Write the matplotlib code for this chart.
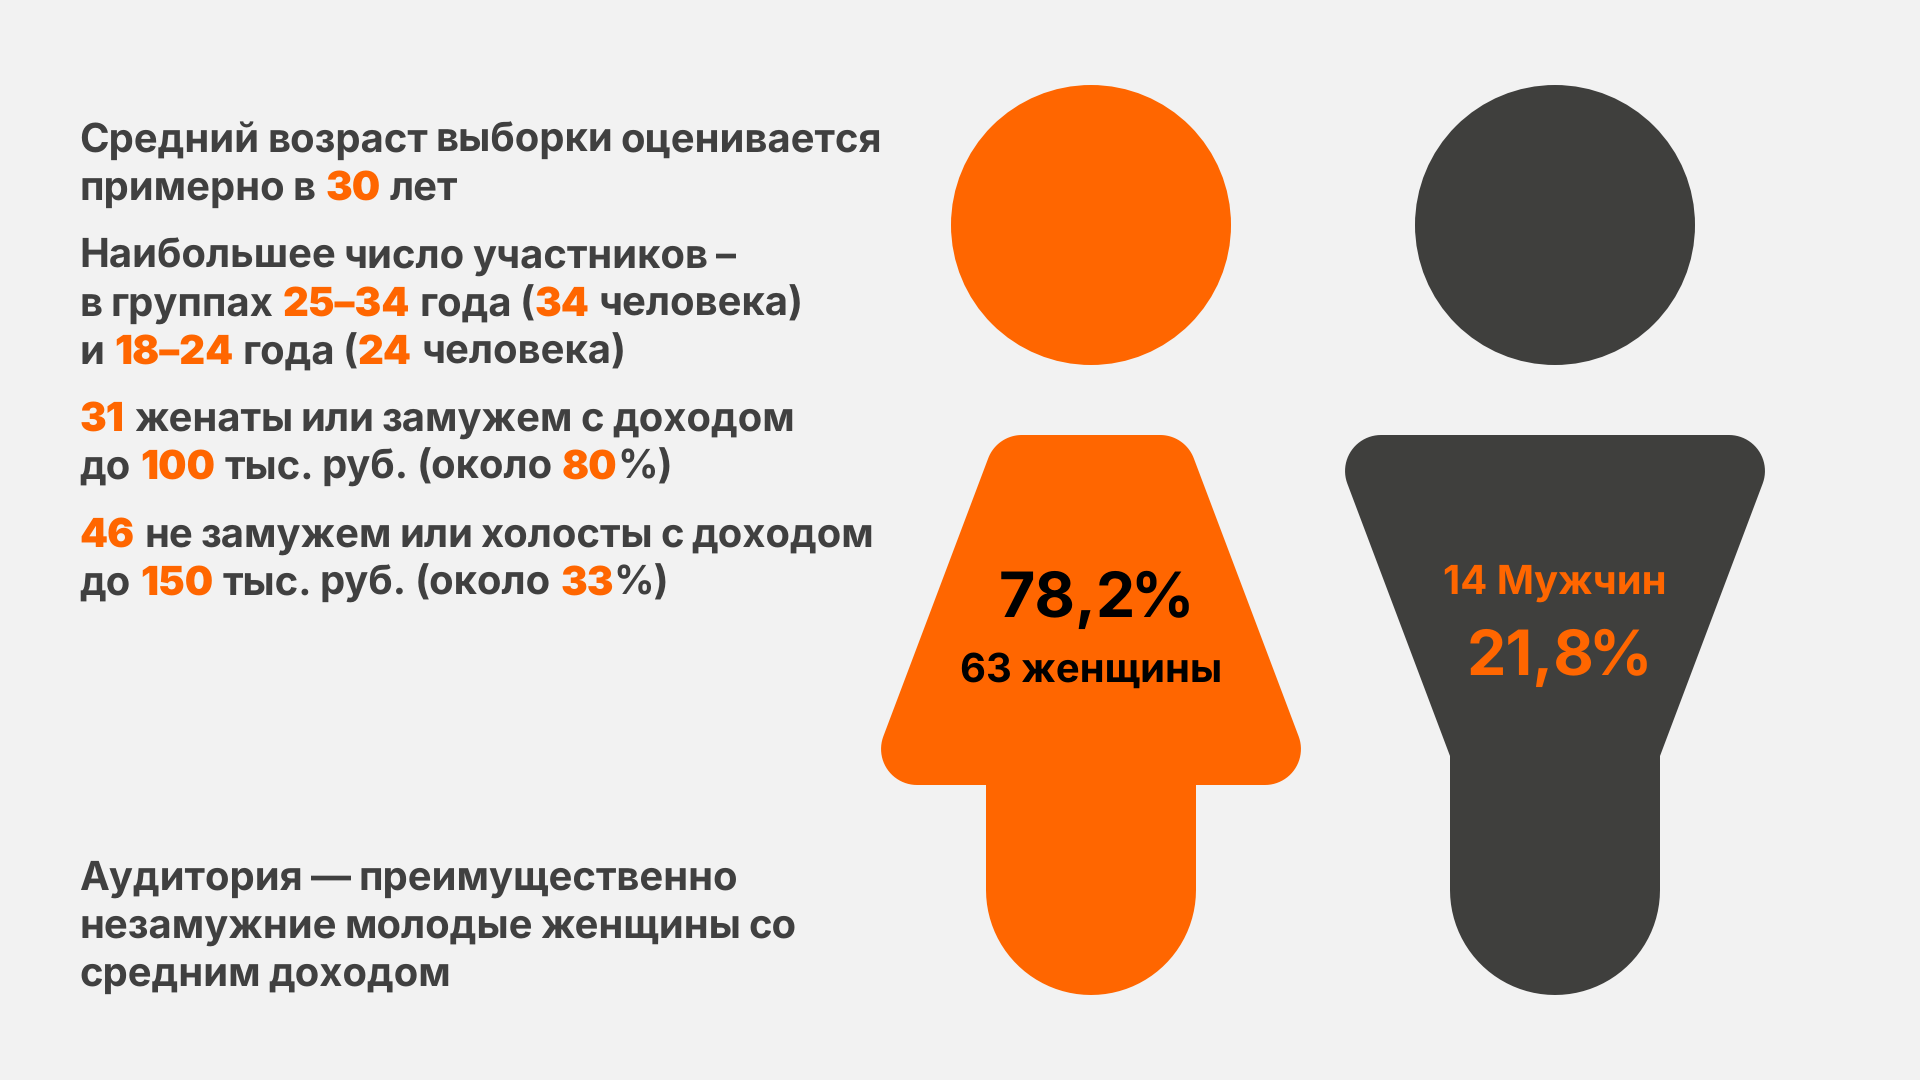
import numpy as np
import matplotlib
matplotlib.use("Agg")
import matplotlib.pyplot as plt
from matplotlib.patches import Circle, PathPatch
from matplotlib.path import Path

plt.rcParams["text.hinting"] = "no_hinting"
plt.rcParams["text.hinting_factor"] = 1

BG = "#F2F2F2"
ORANGE = "#FF6600"
DARK = "#3F3F3D"
TEXT = "#404040"
FONT = "Inter"

# Data
shares = [78.2, 21.8]
counts = [63, 14]
share_numbers = ["78,2", "21,8"]
share_unit = "%"
count_labels = ["63 женщины", "14 Мужчин"]

# Text lines: (plain/highlight flag, text)
paragraph_1 = [[(0, "Средний возраст выборки оценивается")],
               [(0, "примерно в "), (1, "30"), (0, " лет")]]
paragraph_2 = [[(0, "Наибольшее число участников –")],
               [(0, "в группах "), (1, "25–34"), (0, " года ("), (1, "34"), (0, " человека)")],
               [(0, "и "), (1, "18–24"), (0, " года ("), (1, "24"), (0, " человека)")]]
paragraph_3 = [[(1, "31"), (0, " женаты или замужем с доходом")],
               [(0, "до "), (1, "100"), (0, " тыс. руб. (около "), (1, "80"), (0, "%)")]]
paragraph_4 = [[(1, "46"), (0, " не замужем или холосты с доходом")],
               [(0, "до "), (1, "150"), (0, " тыс. руб. (около "), (1, "33"), (0, "%)")]]
paragraph_5 = [[(0, "Аудитория — преимущественно")],
               [(0, "незамужние молодые женщины со")],
               [(0, "средним доходом")]]

fig = plt.figure(figsize=(19.2, 10.8), dpi=100, facecolor=BG)
ax = fig.add_axes([0, 0, 1, 1])
ax.set_xlim(0, 1920)
ax.set_ylim(1080, 0)
ax.axis("off")
renderer = fig.canvas.get_renderer()


def advance(s, fp):
    t = ax.text(0, 0, "н" + s + "н", **fp)
    a = t.get_window_extent(renderer).width
    t.set_text("нн")
    b = t.get_window_extent(renderer).width
    t.remove()
    return a - b


SPACE_TIGHTEN = 2.0


def draw_line(runs, x, y, size=28.8):
    for flag, s in runs:
        fp = dict(family=FONT, fontsize=size, weight=900 if flag else 700)
        base_space = advance(" ", fp)
        words = s.split(" ")
        for i, w in enumerate(words):
            if w:
                ax.text(x, y, w, color=ORANGE if flag else TEXT, ha="left", va="baseline", **fp)
                x += advance(w, fp)
            if i < len(words) - 1:
                # spaces next to a highlighted run keep their full width
                edge = i == 0 and not w or i == len(words) - 2 and not words[-1]
                x += base_space if edge else base_space - SPACE_TIGHTEN


def draw_share(number, xc, y, color, size=45, gap=-6):
    fp = dict(family=FONT, fontsize=size, weight=700)
    w1, w2 = advance(number, fp), advance(share_unit, fp)
    x = xc - (w1 + w2 + gap) / 2
    ax.text(x, y, number, color=color, ha="left", va="baseline", **fp)
    ax.text(x + w1 + gap, y, share_unit, color=color, ha="left", va="baseline", **fp)


LEFT = 79.5
for para, y0 in [(paragraph_1, 152), (paragraph_2, 268), (paragraph_3, 431),
                 (paragraph_4, 547), (paragraph_5, 890)]:
    for i, line in enumerate(para):
        draw_line(line, LEFT, y0 + i * 48)


def rounded_poly(pts, radii, n=24):
    out = []
    m = len(pts)
    for i in range(m):
        p = np.array(pts[i], float)
        a = np.array(pts[i - 1], float)
        b = np.array(pts[(i + 1) % m], float)
        r = radii[i]
        if r == 0:
            out.append(p)
            continue
        u = (a - p) / np.linalg.norm(a - p)
        v = (b - p) / np.linalg.norm(b - p)
        ang = np.arccos(np.clip(u @ v, -1, 1))
        d = r / np.tan(ang / 2)
        bis = (u + v) / np.linalg.norm(u + v)
        c = p + bis * r / np.sin(ang / 2)
        s = p + u * d - c
        e = p + v * d - c
        a0 = np.arctan2(s[1], s[0])
        a1 = np.arctan2(e[1], e[0])
        da = (a1 - a0 + np.pi) % (2 * np.pi) - np.pi
        for t in np.linspace(0, 1, n):
            th = a0 + da * t
            out.append(c + r * np.array([np.cos(th), np.sin(th)]))
    out.append(out[0])
    return np.array(out)


def add_poly(pts, radii, color):
    ax.add_patch(PathPatch(Path(rounded_poly(pts, radii)), fc=color, ec="none"))


TOP, BOTTOM = 435, 995
HEAD_Y, HEAD_R = 225, 140
LEG_W, R_CORNER = 105, 36

# Female
cx = 1091
ax.add_patch(Circle((cx, HEAD_Y), HEAD_R, fc=ORANGE, ec="none"))
add_poly([(cx - 94, TOP), (cx + 94, TOP), (cx + 226, 785), (cx - 226, 785)],
         [R_CORNER] * 4, ORANGE)
add_poly([(cx - LEG_W, 780), (cx + LEG_W, 780), (cx + LEG_W, BOTTOM), (cx - LEG_W, BOTTOM)],
         [0, 0, LEG_W - 0.01, LEG_W - 0.01], ORANGE)
draw_share(share_numbers[0], cx + 5, 617, "black")
ax.text(cx, 682, count_labels[0], color="black", ha="center", va="baseline",
        family=FONT, fontsize=28.8, weight=700)

# Male
cx = 1555
ax.add_patch(Circle((cx, HEAD_Y), HEAD_R, fc=DARK, ec="none"))
add_poly([(cx - 226, TOP), (cx + 226, TOP), (cx + 105, 756), (cx - 105, 756)],
         [R_CORNER, R_CORNER, 0, 0], DARK)
add_poly([(cx - LEG_W, 750), (cx + LEG_W, 750), (cx + LEG_W, BOTTOM), (cx - LEG_W, BOTTOM)],
         [0, 0, LEG_W - 0.01, LEG_W - 0.01], DARK)
ax.text(cx, 594, count_labels[1], color=ORANGE, ha="center", va="baseline",
        family=FONT, fontsize=28.8, weight=700)
draw_share(share_numbers[1], cx + 4, 675, ORANGE)

fig.savefig("out.png", dpi=100, facecolor=BG)
